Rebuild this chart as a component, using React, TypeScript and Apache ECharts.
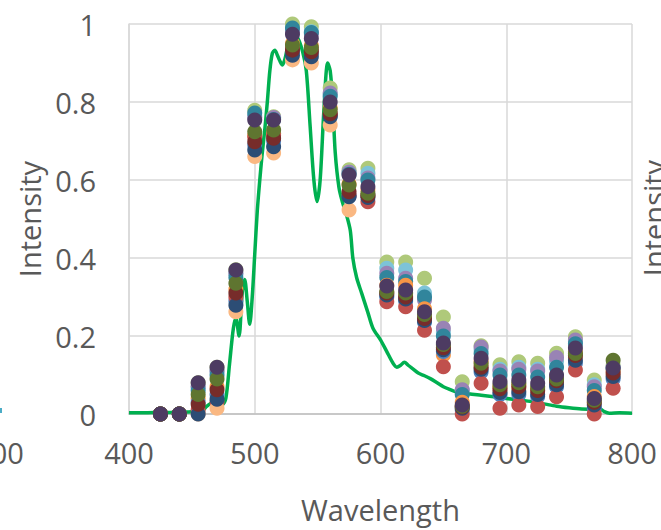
import React, { useEffect, useRef } from "react";
import * as echarts from "echarts";

// Green reference spectrum: [wavelength, intensity]
const spectrumWl = [400, 410, 420, 430, 440, 450, 458, 462, 466, 470, 474, 477, 480, 483, 485, 487.5, 490, 492, 494, 496, 498, 500, 502, 504, 506, 508, 510, 512, 514, 516, 518, 520, 522, 524, 526, 528, 530, 534, 538, 541, 544, 547, 549.5, 552, 555, 558, 560, 562, 564, 567, 570, 573, 576, 578, 581, 585, 590, 594, 600, 605, 610, 613, 616, 619, 622, 626, 630, 635, 640, 645, 650, 655, 660, 665, 670, 680, 690, 700, 710, 720, 730, 740, 750, 760, 770, 774, 778, 782, 790, 800];
const spectrumVal = [0.003, 0.003, 0.004, 0.004, 0.005, 0.006, 0.008, 0.02, 0.028, 0.025, 0.024, 0.04, 0.13, 0.22, 0.245, 0.2, 0.31, 0.345, 0.29, 0.23, 0.3, 0.41, 0.52, 0.6, 0.67, 0.73, 0.8, 0.88, 0.925, 0.933, 0.92, 0.905, 0.895, 0.91, 0.94, 0.96, 0.97, 0.965, 0.93, 0.88, 0.74, 0.6, 0.545, 0.6, 0.78, 0.9, 0.88, 0.8, 0.67, 0.58, 0.54, 0.51, 0.47, 0.4, 0.35, 0.31, 0.26, 0.22, 0.19, 0.16, 0.13, 0.12, 0.125, 0.133, 0.125, 0.115, 0.105, 0.098, 0.09, 0.08, 0.07, 0.063, 0.057, 0.055, 0.052, 0.048, 0.044, 0.04, 0.036, 0.032, 0.026, 0.02, 0.016, 0.013, 0.012, 0.014, 0.006, 0.002, 0.003, 0.002];

// Measured points
const wavelengths = [425, 440, 455, 470, 485, 500, 515, 530, 545, 560, 575, 590, 605, 620, 635, 650, 665, 680, 695, 710, 725, 740, 755, 770, 785];

const lightGreen = [0, 0, 0.08, 0.12, 0.37, 0.779, 0.762, 1.0, 0.993, 0.836, 0.626, 0.63, 0.39, 0.39, 0.348, 0.249, 0.083, 0.175, 0.126, 0.134, 0.13, 0.156, 0.198, 0.087, 0.125];
const lightBlue = [0, 0, 0.07, 0.11, 0.36, 0.765, 0.758, 0.985, 0.98, 0.82, 0.62, 0.617, 0.374, 0.369, 0.31, 0.21, 0.06, 0.165, 0.115, 0.12, 0.115, 0.135, 0.185, 0.075, 0.12];
const lightPurple = [0, 0, 0.07, 0.11, 0.36, 0.76, 0.76, 0.98, 0.975, 0.823, 0.62, 0.605, 0.361, 0.348, 0.292, 0.22, 0.062, 0.172, 0.11, 0.115, 0.11, 0.145, 0.19, 0.07, 0.12];
const teal = [0, 0, 0.06, 0.1, 0.35, 0.772, 0.755, 0.99, 0.978, 0.815, 0.615, 0.6, 0.35, 0.34, 0.3, 0.2, 0.05, 0.155, 0.1, 0.1, 0.095, 0.12, 0.18, 0.06, 0.115];
const orange = [0, 0, 0.04, 0.07, 0.32, 0.715, 0.72, 0.95, 0.945, 0.785, 0.59, 0.575, 0.33, 0.33, 0.27, 0.151, 0.03, 0.135, 0.07, 0.075, 0.065, 0.095, 0.16, 0.045, 0.11];
const blue = [0, 0, 0.03, 0.05, 0.29, 0.69, 0.7, 0.93, 0.925, 0.765, 0.56, 0.56, 0.3, 0.29, 0.235, 0.16, 0.01, 0.108, 0.05, 0.05, 0.045, 0.07, 0.13, 0.015, 0.09];
const red = [0, 0, 0.01, 0.03, 0.3, 0.71, 0.715, 0.94, 0.935, 0.77, 0.56, 0.544, 0.288, 0.275, 0.215, 0.121, 0, 0.079, 0.015, 0.023, 0.019, 0.044, 0.113, 0, 0.066];
const lightOrange = [0, 0, 0, 0.015, 0.262, 0.66, 0.669, 0.908, 0.9, 0.741, 0.523, 0.56, 0.31, 0.305, 0.25, 0.175, 0.02, 0.125, 0.06, 0.065, 0.058, 0.08, 0.145, 0.028, 0.1];
const darkBlue = [0, 0, 0, 0.038, 0.279, 0.677, 0.685, 0.92, 0.916, 0.762, 0.557, 0.555, 0.305, 0.295, 0.24, 0.165, 0.015, 0.115, 0.055, 0.057, 0.05, 0.075, 0.138, 0.023, 0.096];
const darkRed = [0, 0, 0.025, 0.062, 0.31, 0.698, 0.707, 0.933, 0.929, 0.77, 0.57, 0.56, 0.31, 0.3, 0.245, 0.17, 0.018, 0.12, 0.065, 0.07, 0.06, 0.085, 0.15, 0.03, 0.105];
const olive = [0, 0, 0.05, 0.09, 0.335, 0.724, 0.728, 0.946, 0.94, 0.78, 0.587, 0.566, 0.314, 0.31, 0.255, 0.178, 0.02, 0.13, 0.075, 0.08, 0.07, 0.09, 0.155, 0.035, 0.138];
const purple = [0, 0, 0.08, 0.12, 0.369, 0.754, 0.754, 0.974, 0.963, 0.8, 0.613, 0.583, 0.328, 0.318, 0.262, 0.182, 0.023, 0.143, 0.083, 0.087, 0.079, 0.1, 0.169, 0.04, 0.118];

const pointSeries: [string, number[], string][] = [
  ["S1", lightGreen, "#AFC97A"],
  ["S2", lightBlue, "#7DC3D8"],
  ["S3", lightPurple, "#9983B5"],
  ["S4", teal, "#31859C"],
  ["S5", orange, "#F79646"],
  ["S6", blue, "#4F81BD"],
  ["S7", red, "#C0504D"],
  ["S8", lightOrange, "#FAB882"],
  ["S9", darkBlue, "#2C4D75"],
  ["S10", darkRed, "#772C2A"],
  ["S11", olive, "#5F7530"],
  ["S12", purple, "#4D3B62"],
];

const xTicks = { min: 400, max: 800, interval: 100 };
const yTicks = { min: 0, max: 1, interval: 0.2 };

const FONT = "'Open Sans', 'Noto Sans', sans-serif";
const TEXT = "#595959";

export default function App() {
  const ref = useRef<HTMLDivElement>(null);
  useEffect(() => {
    document.body.style.margin = "0";
    if (!ref.current) return;
    const chart = echarts.init(ref.current, undefined, { renderer: "svg" });
    const series: any[] = [
      {
        type: "line",
        name: "Spectrum",
        data: spectrumWl.map((w, i) => [w, spectrumVal[i]]),
        showSymbol: false,
        symbol: "none",
        smooth: 0.3,
        lineStyle: { color: "#00B050", width: 3.5 },
        z: 1,
      },
      ...pointSeries.map(([name, vals, color], k) => ({
        type: "scatter",
        name,
        data: wavelengths.map((w, i) => [w, vals[i]]),
        symbol: "circle",
        symbolSize: 15,
        itemStyle: { color, opacity: 1 },
        clip: false,
        z: 2 + k,
      })),
    ];
    chart.setOption({
      animation: false,
      grid: { left: 129, right: 29, top: 24, bottom: 116 },
      xAxis: {
        type: "value",
        ...xTicks,
        name: "Wavelength",
        nameLocation: "middle",
        nameGap: 80,
        nameTextStyle: { color: TEXT, fontSize: 29, fontFamily: FONT, lineHeight: 30 },
        axisLine: { show: true, lineStyle: { color: "#BFBFBF", width: 1.5 } },
        axisTick: { show: false },
        splitLine: { show: true, lineStyle: { color: "#D9D9D9", width: 1.5 } },
        axisLabel: { color: TEXT, fontSize: 29, fontFamily: FONT, margin: 23, lineHeight: 30 },
      },
      yAxis: {
        type: "value",
        ...yTicks,
        name: "Intensity",
        nameLocation: "middle",
        nameGap: 85,
        nameTextStyle: { color: TEXT, fontSize: 29, fontFamily: FONT, lineHeight: 30 },
        axisLine: { show: true, lineStyle: { color: "#D9D9D9", width: 1.5 } },
        axisTick: { show: false },
        splitLine: { show: true, lineStyle: { color: "#D9D9D9", width: 1.5 } },
        axisLabel: { color: TEXT, fontSize: 29, fontFamily: FONT, margin: 33 },
      },
      graphic: [
        {
          type: "text",
          x: -1,
          y: 452,
          style: { text: "300", fill: TEXT, fontSize: 29, fontFamily: FONT, align: "center", verticalAlign: "middle" },
        },
        {
          type: "text",
          x: 639,
          y: 218,
          rotation: Math.PI / 2,
          style: { text: "Intensity", fill: TEXT, fontSize: 29, fontFamily: FONT, align: "center", verticalAlign: "top" },
        },
        {
          type: "rect",
          shape: { x: 0, y: 408, width: 2, height: 5 },
          style: { fill: "#4BACC6" },
        },
      ],
      series,
    });
    return () => chart.dispose();
  }, []);
  return <div ref={ref} style={{ width: 661, height: 530 }} />;
}
